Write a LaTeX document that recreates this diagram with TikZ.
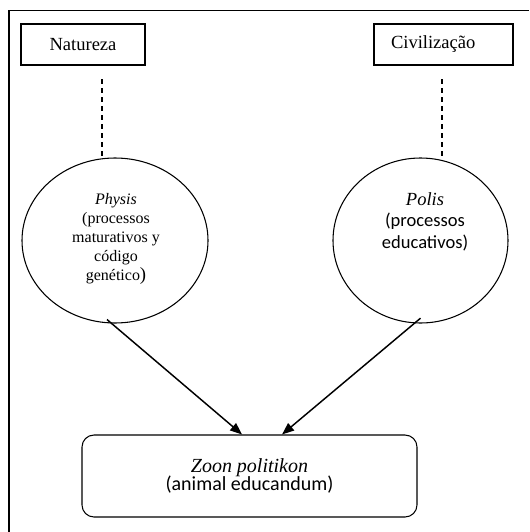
\documentclass[tikz,border=0pt]{standalone}
\usepackage{fontspec}
\setmainfont{Liberation Serif}
\newfontfamily\calibri{Carlito}
\usetikzlibrary{arrows.meta,positioning,shapes.geometric}

\begin{document}
\begin{tikzpicture}[
  x=0.75pt, y=-0.75pt,
  line width=0.8pt,
  frame/.style={line width=0.9pt},
  label/.style={draw, minimum height=30.75pt, inner sep=0pt, font=\fontsize{13.9}{16}\selectfont},
  realm/.style={draw, ellipse, minimum height=123.75pt, inner sep=0pt},
  blurb/.style={align=center, inner sep=0pt},
  goal/.style={draw, rounded corners=9pt, minimum width=251.25pt, minimum height=61.5pt, align=center, font=\fontsize{15}{16}\selectfont},
  link/.style={dash pattern=on 3.75pt off 3pt},
  arrow/.style={-{Triangle[length=9pt, width=7pt]}, line width=1.1pt}
]
\useasboundingbox (0,0) rectangle (529,532);

% outer frame (cut off at right and bottom)
\draw[frame] (9,532) |- (529,10.5);

% top labels
\node[label, minimum width=93pt] (nat) at (83, 44.5) {Natureza};
\node[label, text width=78.75pt, inner xsep=12.75pt, align=left] (civ) at (443.5, 44.5) {Civilização};

% the two realms
\node[realm, minimum width=139.5pt] (phys) at (115, 240.5) {};
\node[realm, minimum width=131.25pt] (pol) at (420.5, 240.5) {};
\node[blurb, font=\fontsize{12}{14.25}\selectfont] (phys-txt) at (116, 238.5)
  {\textit{Physis}\\(processos\\maturativos y\\código\\genético{\fontsize{14}{14}\selectfont)}};
\node[blurb, font=\fontsize{13.9}{16}\selectfont] (pol-txt) at (425, 221.7)
  {\textit{Polis}\\{\calibri (processos}\\{\calibri educativos)}};

% result
\node[goal] (zoon) at (249.5, 476) {\textit{Zoon politikon}\\[-3pt]{\calibri (animal educandum)}};

\coordinate (nat-dash) at (102, 79);
\coordinate (civ-dash) at (442, 79);
\draw[link] (nat-dash) -- (nat-dash |- phys.north);
\draw[link] (civ-dash) -- (civ-dash |- pol.north);

\draw[arrow] ([xshift=-6pt, yshift=3pt]phys.south) -- ([xshift=-5.6pt]zoon.north);
\draw[arrow] ([yshift=4pt]pol.south) -- ([xshift=24.4pt]zoon.north);
\end{tikzpicture}
\end{document}
